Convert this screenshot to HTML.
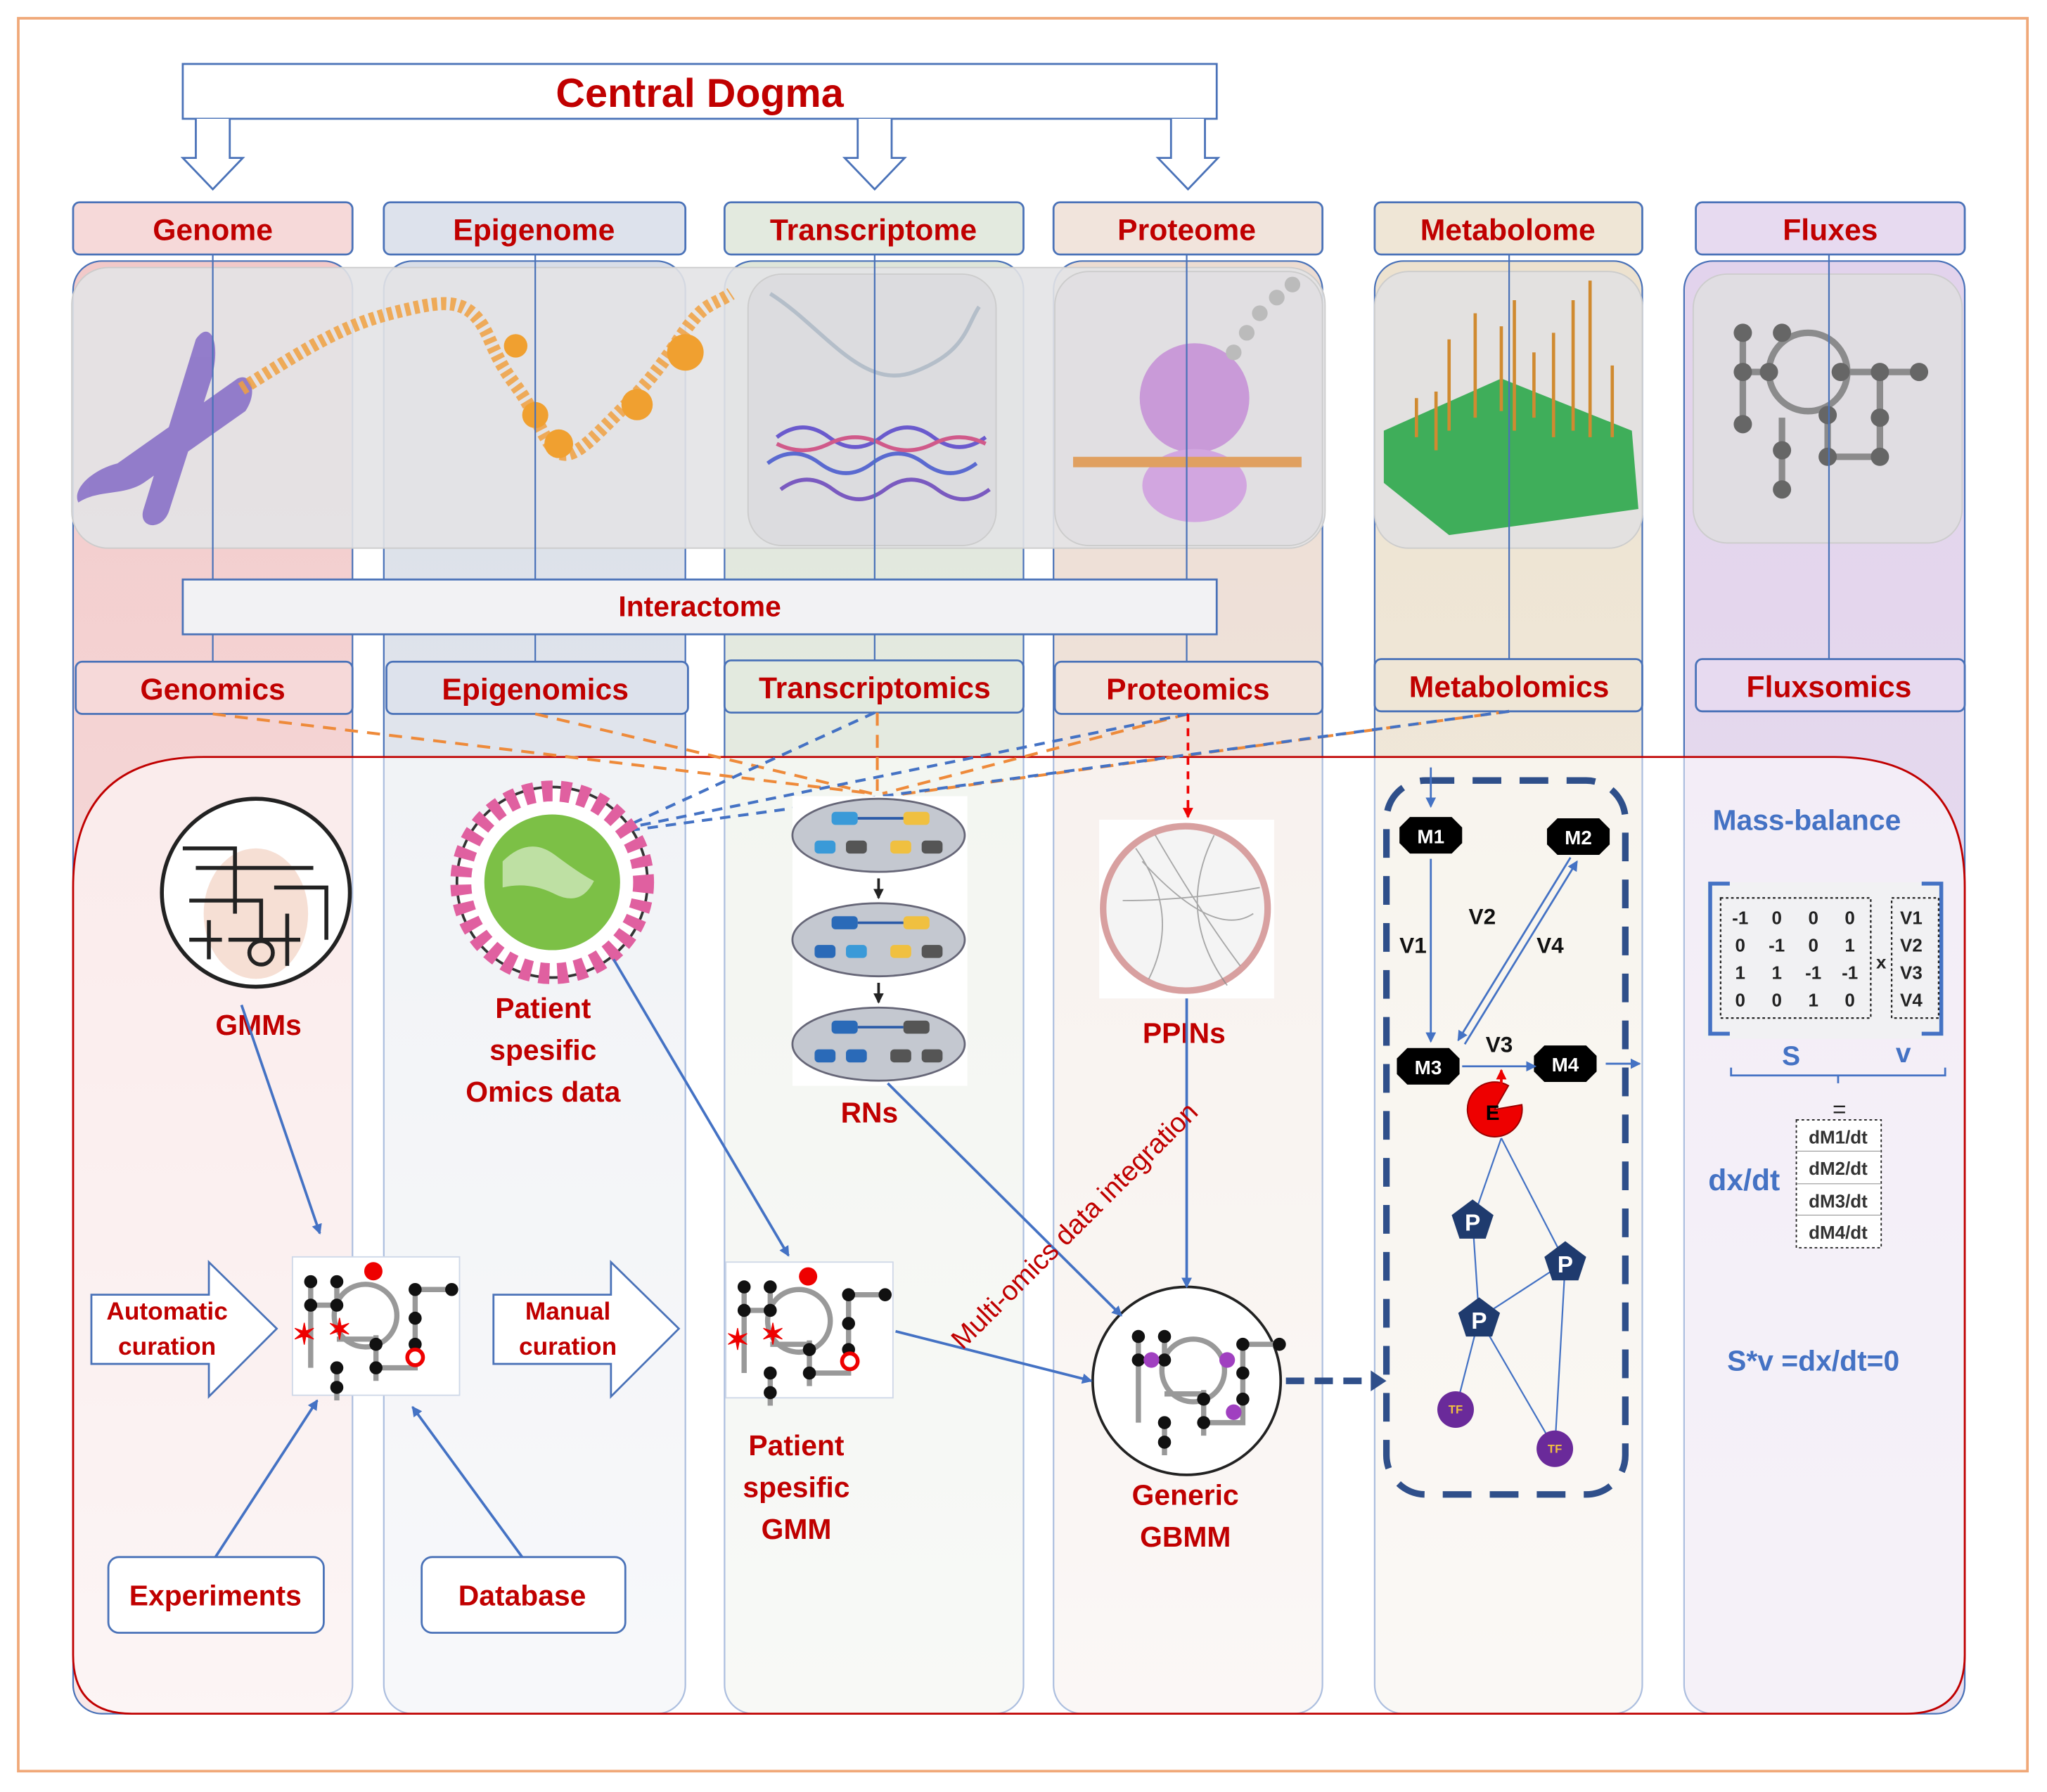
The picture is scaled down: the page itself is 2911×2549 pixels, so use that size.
<!DOCTYPE html>
<html><head><meta charset="utf-8"><style>
html,body{margin:0;padding:0;background:#fff}
svg{display:block}
text{font-family:"Liberation Sans",sans-serif;font-weight:bold}
</style></head><body>
<svg width="2911" height="2549" viewBox="0 0 1568 1373" preserveAspectRatio="none" xmlns="http://www.w3.org/2000/svg">
<defs>
<linearGradient id="gG" x1="0" y1="0" x2="0" y2="1"><stop offset="0" stop-color="#f2c9c9"/><stop offset="1" stop-color="#f8e8e8"/></linearGradient>
<linearGradient id="gE" x1="0" y1="0" x2="0" y2="1"><stop offset="0" stop-color="#d9dee8"/><stop offset="1" stop-color="#eef0f4"/></linearGradient>
<linearGradient id="gT" x1="0" y1="0" x2="0" y2="1"><stop offset="0" stop-color="#dfe6da"/><stop offset="1" stop-color="#eff2ec"/></linearGradient>
<linearGradient id="gP" x1="0" y1="0" x2="0" y2="1"><stop offset="0" stop-color="#ecdcd2"/><stop offset="1" stop-color="#f5eeea"/></linearGradient>
<linearGradient id="gM" x1="0" y1="0" x2="0" y2="1"><stop offset="0" stop-color="#ede2cf"/><stop offset="1" stop-color="#f4f0e9"/></linearGradient>
<linearGradient id="gF" x1="0" y1="0" x2="0" y2="1"><stop offset="0" stop-color="#e2d3ec"/><stop offset="1" stop-color="#e9e1f0"/></linearGradient>
<marker id="ab" markerWidth="8" markerHeight="8" refX="7" refY="4" orient="auto" markerUnits="userSpaceOnUse"><path d="M0,0 L8,4 L0,8 z" fill="#4472c4"/></marker>
<marker id="ak" markerWidth="8" markerHeight="8" refX="7" refY="4" orient="auto" markerUnits="userSpaceOnUse"><path d="M0,0 L8,4 L0,8 z" fill="#222"/></marker>
<marker id="ar" markerWidth="8" markerHeight="8" refX="7" refY="4" orient="auto" markerUnits="userSpaceOnUse"><path d="M0,0 L8,4 L0,8 z" fill="#e00"/></marker>
<g id="net">
 <g stroke="#999" stroke-width="4" fill="none">
  <circle cx="52" cy="40" r="24"/>
  <path d="M10,14 V80 M10,32 H30 M30,14 V32 M90,20 H118 M90,20 V80 H60 V62 M30,80 V105 M60,55 V90 M30,58 H60"/>
 </g>
 <g fill="#111">
  <circle cx="10" cy="14" r="5"/><circle cx="30" cy="14" r="5"/><circle cx="10" cy="32" r="5"/><circle cx="30" cy="32" r="5"/>
  <circle cx="90" cy="20" r="5"/><circle cx="118" cy="20" r="5"/><circle cx="90" cy="42" r="5"/><circle cx="90" cy="62" r="5"/>
  <circle cx="60" cy="62" r="5"/><circle cx="60" cy="80" r="5"/><circle cx="30" cy="80" r="5"/><circle cx="30" cy="95" r="5"/>
 </g>
</g>
</defs>

<rect width="1568" height="1373" fill="#fff"/>
<rect x="14" y="14" width="1539" height="1343" fill="none" stroke="#f0a878" stroke-width="2"/>

<g stroke="#4a72b8" stroke-width="1.2">
 <rect x="56" y="200" width="214" height="1113" rx="22" fill="url(#gG)"/>
 <rect x="294" y="200" width="231" height="1113" rx="22" fill="url(#gE)"/>
 <rect x="555" y="200" width="229" height="1113" rx="22" fill="url(#gT)"/>
 <rect x="807" y="200" width="206" height="1113" rx="22" fill="url(#gP)"/>
 <rect x="1053" y="200" width="205" height="1113" rx="22" fill="url(#gM)"/>
 <rect x="1290" y="200" width="215" height="1113" rx="22" fill="url(#gF)"/>
</g>

<rect x="55" y="205" width="960" height="215" rx="28" fill="#e3e3e6" fill-opacity="0.9" stroke="#ccc"/>
<rect x="573" y="210" width="190" height="208" rx="26" fill="#dcdcdf" stroke="#ccc"/>
<rect x="808" y="208" width="205" height="210" rx="26" fill="#e1dfe2" stroke="#ccc"/>
<rect x="1053" y="208" width="205" height="212" rx="26" fill="#e3e1e0" stroke="#ccc"/>
<rect x="1297" y="210" width="206" height="206" rx="26" fill="#e0dde2" stroke="#ccc"/>
<g fill="#8a72c8" opacity="0.9">
 <path d="M150,260 C160,245 170,260 162,290 L130,390 C125,408 105,405 110,390 Z"/>
 <path d="M182,290 C192,285 198,300 188,315 L110,370 C95,380 75,375 60,385 C55,375 70,360 90,355 Z"/>
</g>
<path d="M185,298 C230,270 260,250 300,240 S360,225 375,260 S395,290 410,320 S430,360 460,330 S500,290 520,260 S545,235 560,225" fill="none" stroke="#f0a040" stroke-width="10" stroke-dasharray="4 3" opacity="0.85"/>
<g fill="#f0a030"><circle cx="395" cy="265" r="9"/><circle cx="410" cy="318" r="10"/><circle cx="428" cy="340" r="11"/><circle cx="488" cy="310" r="12"/><circle cx="525" cy="270" r="14"/></g>
<path d="M590,225 C630,250 660,300 700,285 S740,250 750,235" fill="none" stroke="#9ab" stroke-width="3" opacity="0.6"/>
<g stroke-width="3" fill="none">
 <path d="M595,335 q20,-15 40,0 t40,0 t40,0 t40,0" stroke="#6a5acd"/>
 <path d="M588,355 q20,-15 40,0 t40,0 t40,0 t40,0" stroke="#5a6ad0"/>
 <path d="M598,375 q20,-15 40,0 t40,0 t40,0 t40,0" stroke="#7a5ac0"/>
 <path d="M595,340 q20,10 40,0 t40,0 t40,0 t40,0" stroke="#d05a8a"/>
</g>
<ellipse cx="915" cy="305" rx="42" ry="42" fill="#c99ad8"/>
<ellipse cx="915" cy="372" rx="40" ry="28" fill="#d2a6e0"/>
<rect x="822" y="350" width="175" height="8" fill="#e0a060"/>
<g fill="#bbb"><circle cx="945" cy="270" r="6"/><circle cx="955" cy="255" r="6"/><circle cx="965" cy="240" r="6"/><circle cx="978" cy="228" r="6"/><circle cx="990" cy="218" r="6"/></g>
<path d="M1060,330 L1150,290 L1250,330 L1255,390 L1110,410 L1060,370 Z" fill="#3fae5a"/>
<g stroke="#d08a30" stroke-width="2.5"><path d="M1110,330 V260 M1130,320 V240 M1150,315 V250 M1160,330 V230 M1175,320 V270 M1190,335 V255 M1205,330 V230 M1218,335 V215 M1235,335 V280 M1100,345 V300 M1085,335 V305"/></g>
<g stroke="#777" stroke-width="5" fill="none" opacity="0.8"><circle cx="1385" cy="285" r="30"/><path d="M1335,255 V325 M1335,285 H1360 M1410,285 H1470 M1440,285 V350 H1400 V320 M1365,320 V375"/></g>
<g fill="#666"><circle cx="1335" cy="255" r="7"/><circle cx="1335" cy="285" r="7"/><circle cx="1335" cy="325" r="7"/><circle cx="1355" cy="285" r="7"/><circle cx="1365" cy="255" r="7"/><circle cx="1410" cy="285" r="7"/><circle cx="1440" cy="285" r="7"/><circle cx="1470" cy="285" r="7"/><circle cx="1440" cy="320" r="7"/><circle cx="1440" cy="350" r="7"/><circle cx="1400" cy="350" r="7"/><circle cx="1400" cy="318" r="7"/><circle cx="1365" cy="345" r="7"/><circle cx="1365" cy="375" r="7"/></g>

<g stroke="#4a72b8" stroke-width="1.2">
 <line x1="163" y1="195" x2="163" y2="507"/><line x1="410" y1="195" x2="410" y2="507"/><line x1="670" y1="195" x2="670" y2="506"/>
 <line x1="909" y1="195" x2="909" y2="507"/><line x1="1156" y1="195" x2="1156" y2="505"/><line x1="1401" y1="195" x2="1401" y2="505"/>
</g>

<rect x="140" y="49" width="792" height="42" fill="#fff" stroke="#4a72b8" stroke-width="1.5"/>
<text x="536" y="82" font-size="31" fill="#c00000" text-anchor="middle">Central Dogma</text>
<g fill="#fff" stroke="#4a72b8" stroke-width="1.5">
 <path d="M150,91 V121 H140 L163,145 L186,121 H176 V91"/>
 <path d="M657,91 V121 H647 L670,145 L693,121 H683 V91"/>
 <path d="M897,91 V121 H887 L910,145 L933,121 H923 V91"/>
</g>

<g stroke="#4a72b8" stroke-width="1.5">
 <rect x="56" y="155" width="214" height="40" rx="5" fill="#f6d9d9"/>
 <rect x="294" y="155" width="231" height="40" rx="5" fill="#dde2ec"/>
 <rect x="555" y="155" width="229" height="40" rx="5" fill="#e3eadf"/>
 <rect x="807" y="155" width="206" height="40" rx="5" fill="#f1e4dc"/>
 <rect x="1053" y="155" width="205" height="40" rx="5" fill="#efe6d6"/>
 <rect x="1299" y="155" width="206" height="40" rx="5" fill="#e7daf0"/>
</g>
<g font-size="23" fill="#c00000" text-anchor="middle">
 <text x="163" y="184">Genome</text><text x="409" y="184">Epigenome</text><text x="669" y="184">Transcriptome</text>
 <text x="909" y="184">Proteome</text><text x="1155" y="184">Metabolome</text><text x="1402" y="184">Fluxes</text>
</g>

<rect x="140" y="444" width="792" height="42" fill="#f2f2f4" stroke="#4a72b8" stroke-width="1.5"/>
<text x="536" y="472" font-size="22" fill="#c00000" text-anchor="middle">Interactome</text>

<g stroke="#4a72b8" stroke-width="1.5">
 <rect x="58" y="507" width="212" height="40" rx="5" fill="#f6d9d9"/>
 <rect x="296" y="507" width="231" height="40" rx="5" fill="#dde2ec"/>
 <rect x="555" y="506" width="229" height="40" rx="5" fill="#e3eadf"/>
 <rect x="808" y="507" width="205" height="40" rx="5" fill="#f1e4dc"/>
 <rect x="1053" y="505" width="205" height="40" rx="5" fill="#efe6d6"/>
 <rect x="1299" y="505" width="206" height="40" rx="5" fill="#e7daf0"/>
</g>
<g font-size="23" fill="#c00000" text-anchor="middle">
 <text x="163" y="536">Genomics</text><text x="410" y="536">Epigenomics</text><text x="670" y="535">Transcriptomics</text>
 <text x="910" y="536">Proteomics</text><text x="1156" y="534">Metabolomics</text><text x="1401" y="534">Fluxsomics</text>
</g>

<path d="M156,580 H1405 Q1505,580 1505,680 V1268 Q1505,1313 1460,1313 H101 Q56,1313 56,1268 V680 Q56,580 156,580 Z" fill="#ffffff" fill-opacity="0.55" stroke="#c00000" stroke-width="1.5"/>

<g stroke="#ee8a3a" stroke-width="2.2" stroke-dasharray="10 7" fill="none">
 <line x1="163" y1="547" x2="668" y2="608"/><line x1="410" y1="547" x2="668" y2="608"/><line x1="672" y1="546" x2="672" y2="606"/>
 <line x1="910" y1="547" x2="676" y2="608"/><line x1="1156" y1="545" x2="680" y2="610"/>
</g>
<g stroke="#4472c4" stroke-width="2.2" stroke-dasharray="8 6" fill="none">
 <line x1="670" y1="546" x2="482" y2="632"/><line x1="910" y1="547" x2="482" y2="634"/><line x1="1156" y1="545" x2="484" y2="636"/>
</g>
<line x1="910" y1="547" x2="910" y2="626" stroke="#e00" stroke-width="2" stroke-dasharray="6 5" marker-end="url(#ar)"/>

<circle cx="196" cy="684" r="72" fill="#fff" stroke="#222" stroke-width="3"/>
<ellipse cx="196" cy="700" rx="40" ry="50" fill="#f2d2c2" opacity="0.7"/>
<g stroke="#222" stroke-width="3" fill="none"><path d="M140,650 H180 V700 M150,665 H240 M145,690 H200 V720 M210,680 H250 V720 M160,705 V735 M220,700 V740 M175,720 H230 M145,720 H170"/><circle cx="200" cy="730" r="9"/></g>
<text x="198" y="793" font-size="22" fill="#c00000" text-anchor="middle">GMMs</text>

<circle cx="423" cy="676" r="73" fill="#fff" stroke="#333" stroke-width="2"/>
<circle cx="423" cy="676" r="70" fill="none" stroke="#e060a0" stroke-width="16" stroke-dasharray="8 6"/>
<circle cx="423" cy="676" r="52" fill="#7cc046"/>
<path d="M385,660 q20,-20 40,-5 t30,20 q-10,20 -30,10 t-40,-5z" fill="#fff" opacity="0.5"/>
<g font-size="22" fill="#c00000" text-anchor="middle"><text x="416" y="780">Patient</text><text x="416" y="812">spesific</text><text x="416" y="844">Omics data</text></g>

<rect x="607" y="610" width="134" height="222" fill="#fff"/>
<g fill="#c4c8d0" stroke="#667" stroke-width="1.5">
 <ellipse cx="673" cy="640" rx="66" ry="28"/><ellipse cx="673" cy="720" rx="66" ry="28"/><ellipse cx="673" cy="800" rx="66" ry="28"/>
</g>
<g><rect x="637" y="622" width="20" height="10" rx="3" fill="#3a9ad8"/><rect x="692" y="622" width="20" height="10" rx="3" fill="#f0c040"/>
<rect x="624" y="644" width="16" height="10" rx="3" fill="#3a9ad8"/><rect x="648" y="644" width="16" height="10" rx="3" fill="#555"/><rect x="682" y="644" width="16" height="10" rx="3" fill="#f0c040"/><rect x="706" y="644" width="16" height="10" rx="3" fill="#555"/>
<rect x="637" y="702" width="20" height="10" rx="3" fill="#2a6ab8"/><rect x="692" y="702" width="20" height="10" rx="3" fill="#f0c040"/>
<rect x="624" y="724" width="16" height="10" rx="3" fill="#2a6ab8"/><rect x="648" y="724" width="16" height="10" rx="3" fill="#3a9ad8"/><rect x="682" y="724" width="16" height="10" rx="3" fill="#f0c040"/><rect x="706" y="724" width="16" height="10" rx="3" fill="#555"/>
<rect x="637" y="782" width="20" height="10" rx="3" fill="#2a6ab8"/><rect x="692" y="782" width="20" height="10" rx="3" fill="#555"/>
<rect x="624" y="804" width="16" height="10" rx="3" fill="#2a6ab8"/><rect x="648" y="804" width="16" height="10" rx="3" fill="#2a6ab8"/><rect x="682" y="804" width="16" height="10" rx="3" fill="#555"/><rect x="706" y="804" width="16" height="10" rx="3" fill="#555"/>
<path d="M657,627 H692 M657,707 H692 M657,787 H692" stroke="#2a5aa8" stroke-width="2"/></g>
<line x1="673" y1="673" x2="673" y2="688" stroke="#222" stroke-width="2" marker-end="url(#ak)"/>
<line x1="673" y1="753" x2="673" y2="768" stroke="#222" stroke-width="2" marker-end="url(#ak)"/>
<text x="666" y="860" font-size="22" fill="#c00000" text-anchor="middle">RNs</text>

<rect x="842" y="628" width="134" height="137" fill="#fff"/>
<circle cx="908" cy="696" r="63" fill="#f4f4f4" stroke="#d8a0a0" stroke-width="5"/>
<g stroke="#888" stroke-width="1" fill="none" opacity="0.7"><path d="M870,650 Q905,700 880,750 M885,640 Q920,700 950,740 M860,690 Q910,690 965,680 M930,640 Q900,700 940,755 M875,660 Q930,720 960,700"/></g>
<text x="907" y="799" font-size="22" fill="#c00000" text-anchor="middle">PPINs</text>

<rect x="224" y="963" width="128" height="106" fill="#fff" stroke="#cfd8e8"/>
<use href="#net" x="228" y="968"/>
<circle cx="286" cy="974" r="7" fill="#e00"/>
<text x="233" y="1030" font-size="22" fill="#e00" text-anchor="middle">✶</text><text x="260" y="1026" font-size="22" fill="#e00" text-anchor="middle">✶</text>
<circle cx="318" cy="1040" r="6" fill="#fff" stroke="#e00" stroke-width="3"/>

<rect x="556" y="967" width="128" height="104" fill="#fff" stroke="#cfd8e8"/>
<use href="#net" x="560" y="972"/>
<circle cx="619" cy="978" r="7" fill="#e00"/>
<text x="565" y="1034" font-size="22" fill="#e00" text-anchor="middle">✶</text><text x="592" y="1030" font-size="22" fill="#e00" text-anchor="middle">✶</text>
<circle cx="651" cy="1043" r="6" fill="#fff" stroke="#e00" stroke-width="3"/>

<circle cx="909" cy="1058" r="72" fill="#fff" stroke="#222" stroke-width="2"/>
<use href="#net" x="862" y="1010"/>
<circle cx="882" cy="1042" r="6" fill="#a040c0"/><circle cx="940" cy="1042" r="6" fill="#a040c0"/><circle cx="945" cy="1082" r="6" fill="#a040c0"/>
<g font-size="22" fill="#c00000" text-anchor="middle"><text x="610" y="1115">Patient</text><text x="610" y="1147">spesific</text><text x="610" y="1179">GMM</text>
<text x="908" y="1153">Generic</text><text x="908" y="1185">GBMM</text></g>

<g fill="#fff" stroke="#4a72b8" stroke-width="1.5">
 <path d="M70,992 H160 V967 L212,1018 L160,1070 V1045 H70 Z"/>
 <path d="M378,992 H468 V967 L520,1018 L468,1070 V1045 H378 Z"/>
</g>
<g font-size="19" fill="#c00000" text-anchor="middle"><text x="128" y="1011">Automatic</text><text x="128" y="1038">curation</text><text x="435" y="1011">Manual</text><text x="435" y="1038">curation</text></g>

<rect x="83" y="1193" width="165" height="58" rx="8" fill="#fff" stroke="#4a72b8" stroke-width="1.5"/>
<rect x="323" y="1193" width="156" height="58" rx="8" fill="#fff" stroke="#4a72b8" stroke-width="1.5"/>
<g font-size="22" fill="#c00000" text-anchor="middle"><text x="165" y="1230">Experiments</text><text x="400" y="1230">Database</text></g>

<g stroke="#4472c4" stroke-width="2" fill="none" marker-end="url(#ab)">
 <line x1="185" y1="770" x2="245" y2="945"/><line x1="165" y1="1193" x2="243" y2="1073"/><line x1="400" y1="1193" x2="316" y2="1078"/>
 <line x1="470" y1="735" x2="604" y2="962"/><line x1="680" y1="830" x2="859" y2="1008"/><line x1="686" y1="1020" x2="836" y2="1058"/>
 <line x1="909" y1="765" x2="909" y2="986"/>
</g>
<text transform="translate(828,944) rotate(-45)" font-size="21" fill="#c00000" text-anchor="middle" style="font-weight:normal">Multi-omics data integration</text>
<line x1="985" y1="1058" x2="1050" y2="1058" stroke="#2f4f8a" stroke-width="5" stroke-dasharray="14 8"/>
<path d="M1050,1050 L1062,1058 L1050,1066 Z" fill="#2f4f8a"/>

<rect x="1062" y="598" width="183" height="547" rx="30" fill="none" stroke="#2f4f8a" stroke-width="5" stroke-dasharray="22 14"/>
<line x1="1096" y1="588" x2="1096" y2="618" stroke="#4472c4" stroke-width="1.5" marker-end="url(#ab)"/>
<g fill="#000">
 <path d="M1080,626 h32 l8,8 v12 l-8,8 h-32 l-8,-8 v-12 z"/>
 <path d="M1193,627 h32 l8,8 v12 l-8,8 h-32 l-8,-8 v-12 z"/>
 <path d="M1078,803 h32 l8,8 v12 l-8,8 h-32 l-8,-8 v-12 z"/>
 <path d="M1183,801 h32 l8,8 v12 l-8,8 h-32 l-8,-8 v-12 z"/>
</g>
<g font-size="15" fill="#fff" text-anchor="middle"><text x="1096" y="646">M1</text><text x="1209" y="647">M2</text><text x="1094" y="823">M3</text><text x="1199" y="821">M4</text></g>
<g stroke="#4472c4" stroke-width="1.5" marker-end="url(#ab)">
 <line x1="1096" y1="658" x2="1096" y2="798"/><line x1="1203" y1="657" x2="1117" y2="797"/><line x1="1122" y1="800" x2="1208" y2="660"/>
 <line x1="1120" y1="817" x2="1176" y2="817"/><line x1="1230" y1="815" x2="1256" y2="815"/>
</g>
<g font-size="17" fill="#111" style="font-weight:normal"><text x="1072" y="730">V1</text><text x="1125" y="708">V2</text><text x="1177" y="730">V4</text><text x="1138" y="806">V3</text></g>
<g stroke="#4472c4" stroke-width="1.2" fill="none"><path d="M1150,872 L1128,935 L1133,1010 L1115,1080 M1150,872 L1199,967 L1191,1110 M1133,1010 L1199,967 M1133,1010 L1191,1110"/></g>
<path d="M1145,850 L1165.7,846.4 A21,21 0 1,1 1155.5,831.8 Z" fill="#e00" stroke="#900"/>
<text x="1138" y="858" font-size="16" fill="#000">E</text>
<line x1="1150" y1="836" x2="1150" y2="820" stroke="#e00" stroke-width="2" marker-end="url(#ar)"/>
<g fill="#1f3b6e">
 <path d="M1128,919 l16,12 l-6,18 h-20 l-6,-18 z"/><path d="M1199,951 l16,12 l-6,18 h-20 l-6,-18 z"/><path d="M1133,994 l16,12 l-6,18 h-20 l-6,-18 z"/>
</g>
<g font-size="18" fill="#fff" text-anchor="middle"><text x="1128" y="943">P</text><text x="1199" y="975">P</text><text x="1133" y="1018">P</text></g>
<g fill="#6a2a9a"><circle cx="1115" cy="1080" r="14"/><circle cx="1191" cy="1110" r="14"/></g>
<g font-size="9" fill="#f0c040" text-anchor="middle"><text x="1115" y="1083">TF</text><text x="1191" y="1113">TF</text></g>

<text x="1384" y="636" font-size="22" fill="#4472c4" text-anchor="middle">Mass-balance</text>
<rect x="1305" y="676" width="183" height="120" fill="#f1f1f3"/>
<path d="M1325,677 H1310 V792 H1325 M1472,677 H1487 V792 H1472" fill="none" stroke="#4472c4" stroke-width="3"/>
<rect x="1318" y="688" width="115" height="92" fill="none" stroke="#222" stroke-width="1.2" stroke-dasharray="2 2"/>
<rect x="1449" y="688" width="36" height="92" fill="none" stroke="#222" stroke-width="1.2" stroke-dasharray="2 2"/>
<g font-size="14" fill="#222" style="font-weight:normal" text-anchor="middle">
 <text x="1333" y="708">-1</text><text x="1361" y="708">0</text><text x="1389" y="708">0</text><text x="1417" y="708">0</text>
 <text x="1333" y="729">0</text><text x="1361" y="729">-1</text><text x="1389" y="729">0</text><text x="1417" y="729">1</text>
 <text x="1333" y="750">1</text><text x="1361" y="750">1</text><text x="1389" y="750">-1</text><text x="1417" y="750">-1</text>
 <text x="1333" y="771">0</text><text x="1361" y="771">0</text><text x="1389" y="771">1</text><text x="1417" y="771">0</text>
 <text x="1441" y="742">x</text>
 <text x="1464" y="708">V1</text><text x="1464" y="729">V2</text><text x="1464" y="750">V3</text><text x="1464" y="771">V4</text>
</g>
<g font-size="21" fill="#4472c4" text-anchor="middle"><text x="1372" y="816">S</text><text x="1458" y="814">v</text></g>
<path d="M1326,818 V824 H1490 V818 M1408,824 V830" fill="none" stroke="#4472c4" stroke-width="1.5"/>
<text x="1409" y="856" font-size="18" fill="#222" text-anchor="middle" style="font-weight:normal">=</text>
<rect x="1376" y="858" width="65" height="98" fill="#fff" stroke="#222" stroke-width="1" stroke-dasharray="2 2"/>
<g stroke="#999" stroke-width="0.6"><line x1="1376" y1="882" x2="1441" y2="882"/><line x1="1376" y1="907" x2="1441" y2="907"/><line x1="1376" y1="931" x2="1441" y2="931"/></g>
<g font-size="14" fill="#333" text-anchor="middle" style="font-weight:normal"><text x="1408" y="876">dM1/dt</text><text x="1408" y="900">dM2/dt</text><text x="1408" y="925">dM3/dt</text><text x="1408" y="949">dM4/dt</text></g>
<text x="1336" y="912" font-size="23" fill="#4472c4" text-anchor="middle">dx/dt</text>
<text x="1389" y="1050" font-size="22" fill="#4472c4" text-anchor="middle">S*v =dx/dt=0</text>
</svg>
</body></html>
